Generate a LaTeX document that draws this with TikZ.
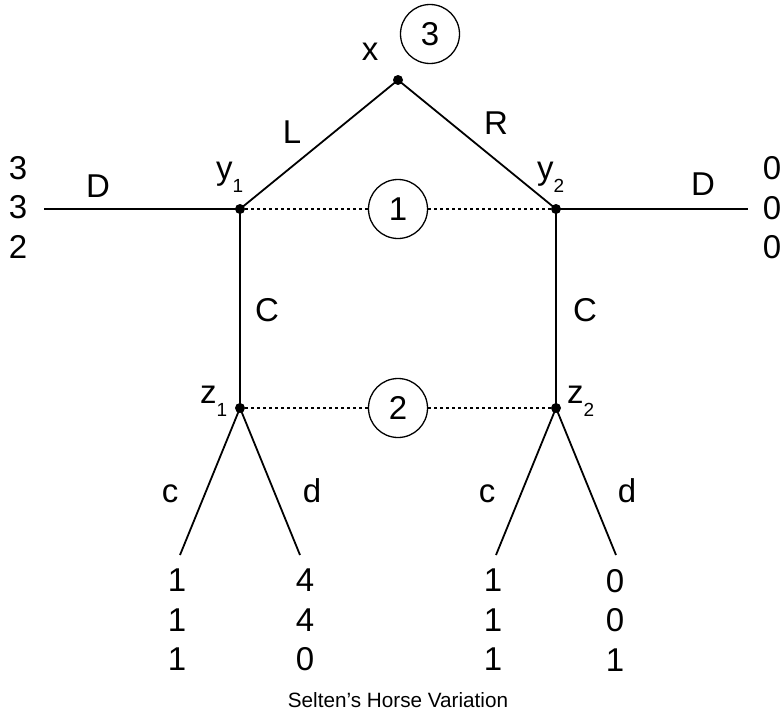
\documentclass[tikz,border=0pt]{standalone}
\usepackage{fontspec}
\setmainfont{Liberation Sans}
\newcommand\subidx[1]{\raisebox{-13pt}{\fontsize{19}{19}\selectfont #1}}
\begin{document}
\begin{tikzpicture}[x=1pt,y=-1pt,
  lbl/.style={inner sep=0pt, font=\fontsize{33}{40}\selectfont},
  pay/.style={inner sep=0pt, align=center, font=\fontsize{33}{39.5}\selectfont},
  dec/.style={circle, fill=black, inner sep=0pt, minimum size=10pt},
  info/.style={circle, draw, line width=1.3pt, minimum size=59pt, inner sep=0pt, font=\fontsize{33}{40}\selectfont},
  edge/.style={line width=1.8pt},
  infoline/.style={line width=1.4pt, dash pattern=on 3pt off 3pt}]
\useasboundingbox (0,0) rectangle (784,717);

% decision nodes
\node[dec] (x)  at (398,80)  {};
\node[dec] (y1) at (240,209) {};
\node[dec] (y2) at (556,209) {};
\node[dec] (z1) at (240,408) {};
\node[dec] (z2) at (556,408) {};

% terminal points
\coordinate (dl) at (44,209);
\coordinate (dr) at (748,209);
\coordinate (t1) at (180,555);
\coordinate (t2) at (300,555);
\coordinate (t3) at (496,555);
\coordinate (t4) at (616,555);

% information sets
\node[info] (i3) at (430,34)  {3};
\node[info] (i1) at (398,209) {1};
\node[info] (i2) at (398,408) {2};

% edges
\draw[edge] (x.center) -- (y1.center);
\draw[edge] (x.center) -- (y2.center);
\draw[edge] (dl) -- (y1.center);
\draw[edge] (y2.center) -- (dr);
\draw[edge] (y1.center) -- (z1.center);
\draw[edge] (y2.center) -- (z2.center);
\draw[edge] (z1.center) -- (t1);
\draw[edge] (z1.center) -- (t2);
\draw[edge] (z2.center) -- (t3);
\draw[edge] (z2.center) -- (t4);

\draw[infoline] (y1) -- (i1);
\draw[infoline] (i1) -- (y2);
\draw[infoline] (z1) -- (i2);
\draw[infoline] (i2) -- (z2);

% node labels
\node[lbl, anchor=base] (lx) at (370,61) {x};
\node[lbl, anchor=base west] (ly1) at (216,179) {y\subidx{1}};
\node[lbl, anchor=base west] (ly2) at (537,179) {y\subidx{2}};
\node[lbl, anchor=base west] (lz1) at (200,403) {z\subidx{1}};
\node[lbl, anchor=base west] (lz2) at (567,403) {z\subidx{2}};

% action labels
\node[lbl, anchor=base] (aL)  at (292,143) {L};
\node[lbl, anchor=base] (aR)  at (496,134) {R};
\node[lbl, anchor=base] (aD1) at (98,197)  {D};
\node[lbl, anchor=base] (aD2) at (703,195) {D};
\node[lbl, anchor=base] (aC1) at (267,321) {C};
\node[lbl, anchor=base] (aC2) at (585,321) {C};
\node[lbl, anchor=base] (ac1) at (170,502) {c};
\node[lbl, anchor=base] (ad1) at (312,502) {d};
\node[lbl, anchor=base] (ac2) at (487,502) {c};
\node[lbl, anchor=base] (ad2) at (627,502) {d};

% payoffs
\node[pay] (p0) at (18,207)  {3\\3\\2};
\node[pay] (p5) at (772,208) {0\\0\\0};
\node[pay] (p1) at (177,620) {1\\1\\1};
\node[pay] (p2) at (305,620) {4\\4\\0};
\node[pay] (p3) at (493,620) {1\\1\\1};
\node[pay] (p4) at (615,620) {0\\0\\1};

% caption
\node[inner sep=0pt, font=\fontsize{20.7}{24}\selectfont] (cap) at (398,700) {Selten’s Horse Variation};
\end{tikzpicture}
\end{document}
